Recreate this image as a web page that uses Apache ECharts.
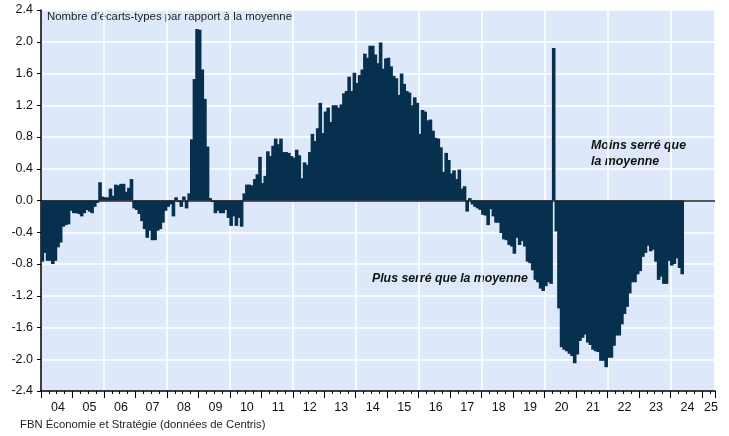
<!DOCTYPE html>
<html>
<head>
<meta charset="utf-8">
<script src="https://cdn.jsdelivr.net/npm/echarts@6.0.0/dist/echarts.min.js"></script>
<style>
html,body{margin:0;padding:0;background:#ffffff;}
#chart{width:729px;height:436px;}
</style>
</head>
<body>
<div id="chart"></div>
<script>
// ---- Data (monthly, Jan 2004 onward) ----
const years = ['2004','2005','2006','2007','2008','2009','2010','2011','2012','2013','2014','2015','2016','2017','2018','2019','2020','2021','2022','2023','2024','2025'];
const monthsInLastYear = 5; // axis runs to May 2025

const v2004 = [-0.77,-0.66,-0.76,-0.76,-0.80,-0.76,-0.59,-0.53,-0.33,-0.31,-0.30,-0.13];
const v2005 = [-0.16,-0.16,-0.17,-0.20,-0.16,-0.12,-0.14,-0.16,-0.08,-0.03,0.23,0.05];
const v2006 = [0.04,0.04,0.15,0.06,0.20,0.19,0.21,0.21,0.11,0.16,0.27,-0.10];
const v2007 = [-0.12,-0.17,-0.26,-0.36,-0.47,-0.38,-0.50,-0.50,-0.38,-0.36,-0.28,-0.13];
const v2008 = [-0.08,-0.05,-0.20,0.04,-0.02,-0.08,0.05,-0.10,0.09,0.77,1.53,2.16];
const v2009 = [2.15,1.65,1.28,0.68,0.03,-0.02,-0.16,-0.13,-0.16,-0.16,-0.12,-0.22];
const v2010 = [-0.32,-0.20,-0.32,-0.22,-0.33,0.09,0.20,0.20,0.19,0.27,0.33,0.55];
const v2011 = [0.22,0.31,0.62,0.56,0.69,0.78,0.71,0.78,0.61,0.61,0.60,0.56];
const v2012 = [0.54,0.64,0.57,0.28,0.48,0.45,0.61,0.84,0.75,0.91,1.23,0.85];
const v2013 = [1.12,1.17,0.99,1.20,1.20,1.17,1.21,1.35,1.38,1.56,1.38,1.61];
const v2014 = [1.48,1.58,1.65,1.85,1.80,1.95,1.95,1.84,1.73,1.99,1.66,1.79];
const v2015 = [1.80,1.69,1.57,1.54,1.33,1.60,1.47,1.38,1.36,1.20,1.30,1.23];
const v2016 = [0.84,1.14,1.12,1.01,1.02,0.88,0.79,0.78,0.67,0.36,0.60,0.51];
const v2017 = [0.34,0.38,0.27,0.39,0.15,0.18,-0.14,0.03,-0.05,-0.08,-0.10,-0.12];
const v2018 = [-0.18,-0.19,-0.31,-0.11,-0.20,-0.28,-0.28,-0.41,-0.49,-0.50,-0.56,-0.58];
const v2019 = [-0.67,-0.47,-0.56,-0.51,-0.58,-0.77,-0.79,-0.88,-1.00,-1.03,-1.11,-1.14];
const v2020 = [-1.08,-1.03,-1.05,1.92,-0.39,-1.36,-1.85,-1.88,-1.90,-1.93,-1.96,-2.05];
const v2021 = [-1.94,-1.77,-1.73,-1.69,-1.79,-1.82,-1.88,-1.90,-1.91,-2.02,-2.02,-2.10];
const v2022 = [-1.98,-1.98,-1.83,-1.70,-1.70,-1.56,-1.43,-1.34,-1.17,-1.03,-1.03,-0.93];
const v2023 = [-0.89,-0.71,-0.66,-0.57,-0.64,-0.62,-0.77,-1.00,-0.96,-1.05,-1.05,-0.76];
const v2024 = [-0.82,-0.80,-0.73,-0.85,-0.93];

const yTicks = {min:-2.4, max:2.4, step:0.4};

const titleText = 'Nombre d\u2019écarts-types par rapport à la moyenne';
const sourceText = 'FBN Économie et Stratégie (données de Centris)';
const noteAbove = 'Moins serré que\nla moyenne';
const noteBelow = 'Plus serré que la moyenne';

// ---- Build categories and series ----
const categories = [];
years.forEach((y, yi) => {
  const n = (yi === years.length - 1) ? monthsInLastYear : 12;
  for (let m = 1; m <= n; m++) categories.push(y + '-' + (m < 10 ? '0' + m : m));
});
const values = [].concat(v2004,v2005,v2006,v2007,v2008,v2009,v2010,v2011,v2012,v2013,v2014,v2015,v2016,v2017,v2018,v2019,v2020,v2021,v2022,v2023,v2024);
const lastLabelIdx = categories.length - 2;

const FONT = '"Liberation Sans", Arial, sans-serif';
const BAR = '#06304d';
const chart = echarts.init(document.getElementById('chart'), null, {renderer:'canvas'});

chart.setOption({
  animation: false,
  backgroundColor: '#ffffff',
  grid: {left: 41, right: 14, top: 10, bottom: 45, show: true, backgroundColor: '#dde9fa', borderWidth: 0},
  xAxis: [
    {
      type: 'category', data: categories, boundaryGap: true, position: 'bottom',
      axisLine: {onZero: false, lineStyle: {color: '#000', width: 1.5}},
      axisTick: {show: true, length: 3, interval: (i) => i % 3 === 0, lineStyle: {color: '#000', width: 1}},
      axisLabel: {
        interval: (i) => (i % 12 === 6) || i === lastLabelIdx,
        formatter: (v) => v.slice(2, 4),
        margin: 10, fontSize: 12.5, color: '#111', fontFamily: FONT
      },
      splitLine: {show: true, interval: (i) => i > 0 && i % 24 === 0, lineStyle: {color: '#ffffff', width: 1.5}}
    },
    {
      type: 'category', data: categories, boundaryGap: true, position: 'bottom',
      axisLine: {show: false, onZero: false},
      axisTick: {show: true, length: 7, interval: (i) => i % 12 === 0, lineStyle: {color: '#000', width: 1}},
      axisLabel: {show: false},
      splitLine: {show: false}
    }
  ],
  yAxis: {
    type: 'value', min: yTicks.min, max: yTicks.max, interval: yTicks.step,
    axisLine: {show: true, lineStyle: {color: '#000', width: 1.5}},
    axisTick: {show: true, length: 4, lineStyle: {color: '#000'}},
    axisLabel: {
      formatter: (v) => (Math.abs(v) < 1e-9 ? 0 : v).toFixed(1),
      margin: 8, fontSize: 12.5, color: '#111', fontFamily: FONT
    },
    splitLine: {show: true, lineStyle: {color: '#ffffff', width: 1.5}}
  },
  series: [{
    type: 'bar', xAxisIndex: 0, data: values,
    barWidth: 3.6,
    itemStyle: {color: BAR},
    markLine: {
      symbol: 'none', silent: true, label: {show: false},
      lineStyle: {color: '#222', width: 1.5, type: 'solid'},
      data: [{yAxis: 0}]
    }
  }],
  graphic: [
    {type: 'text', left: 47, top: 11, style: {text: titleText, font: '11.4px ' + FONT, fill: '#222'}},
    {type: 'text', left: 591, top: 138, style: {text: noteAbove, font: 'italic bold 12.4px ' + FONT, fill: '#111', lineHeight: 16}},
    {type: 'text', left: 372, top: 273, style: {text: noteBelow, font: 'italic bold 12.3px ' + FONT, fill: '#111'}},
    {type: 'text', left: 20, top: 419, style: {text: sourceText, font: '11.3px ' + FONT, fill: '#222'}}
  ]
});
</script>
</body>
</html>
